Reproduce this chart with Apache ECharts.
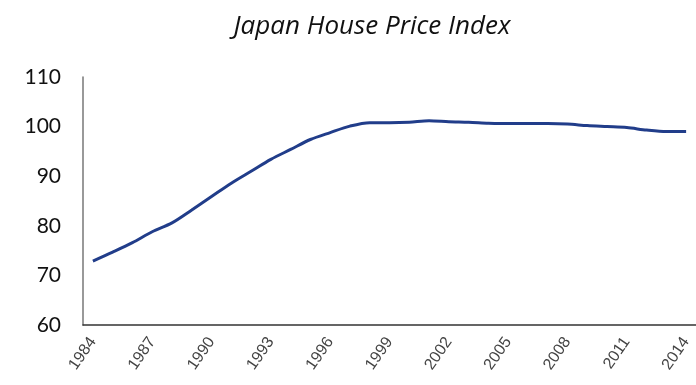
<!DOCTYPE html>
<html><head><meta charset="utf-8">
<script src="https://cdn.jsdelivr.net/npm/echarts@6/dist/echarts.min.js"></script>
<style>html,body{margin:0;padding:0;background:#fff}#c{width:696px;height:385px}</style>
</head><body><div id="c"></div>
<script>
const years = ['1984','1985','1986','1987','1988','1989','1990','1991','1992','1993','1994','1995','1996','1997','1998','1999','2000','2001','2002','2003','2004','2005','2006','2007','2008','2009','2010','2011','2012','2013','2014'];
const priceIndex = [72.9,74.7,76.6,78.8,80.6,83.2,85.9,88.6,91.0,93.4,95.4,97.4,98.8,100.1,100.8,100.8,100.9,101.2,101.0,100.9,100.7,100.6,100.6,100.6,100.5,100.2,100.0,99.8,99.3,99.0,99.0];
const yTicks = {min:60, max:110, interval:10};
const chart = echarts.init(document.getElementById('c'));
chart.setOption({
  animation:false,
  title:{text:'Japan House Price Index', left:367, top:9, textAlign:'center',
    textStyle:{fontFamily:'Open Sans', fontStyle:'italic', fontWeight:'normal', fontSize:26, color:'#111'}},
  grid:{left:83, top:77, width:620, height:248},
  xAxis:{type:'category', data:years, boundaryGap:true,
    axisLine:{lineStyle:{color:'#333', width:1.5}}, axisTick:{show:false},
    axisLabel:{interval:2, rotate:55, margin:14, fontFamily:'Liberation Sans Narrow, Liberation Sans', fontSize:16, color:'#444'}},
  yAxis:{type:'value', min:yTicks.min, max:yTicks.max, interval:yTicks.interval,
    axisLine:{show:true, lineStyle:{color:'#777', width:1.5}}, axisTick:{show:false}, splitLine:{show:false},
    axisLabel:{margin:22, fontFamily:'Lato', fontSize:21, color:'#111'}},
  series:[{type:'line', data:priceIndex, smooth:0.3, symbol:'none',
    lineStyle:{color:'#213d8a', width:3}}]
});
</script></body></html>
